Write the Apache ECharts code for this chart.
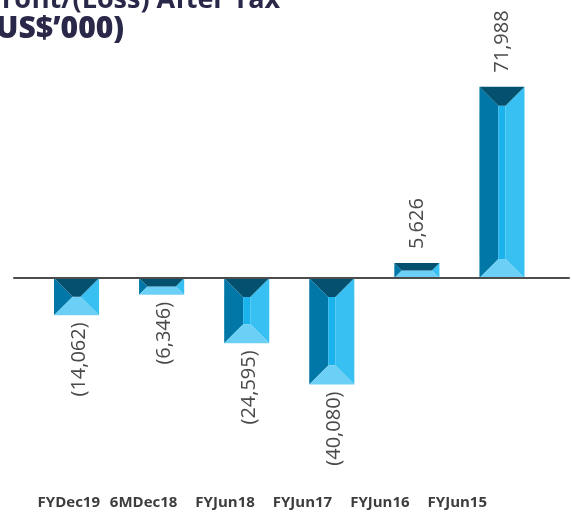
<!DOCTYPE html>
<html>
<head>
<meta charset="utf-8">
<script src="https://cdn.jsdelivr.net/npm/echarts@6/dist/echarts.min.js"></script>
<style>
  html, body { margin: 0; padding: 0; background: #ffffff; }
  #chart { width: 572px; height: 518px; }
</style>
</head>
<body>
<div id="chart"></div>
<script>
// Profit/(Loss) after tax by period, US$'000
const categories = ['FYDec19', '6MDec18', 'FYJun18', 'FYJun17', 'FYJun16', 'FYJun15'];
const profitValues = [-14062, -6346, -24595, -40080, 5626, 71988];
const titleLines = ['Profit/(Loss) After Tax', '(US$\u2019000)'];

// Facet colours of the bevelled bars
const FACET = {
  top: '#03506f',
  left: '#0077a6',
  center: '#1ab3ee',
  right: '#38c0f2',
  bottom: '#6ccff5'
};
const BEVEL = 19;
const BAR_RATIO = 0.53;

function formatValue(v) {
  const s = Math.abs(v).toLocaleString('en-US');
  return v < 0 ? '(' + s + ')' : s;
}

function renderBevelBar(params, api) {
  const idx = api.value(0);
  const val = api.value(1);
  const base = api.coord([idx, 0]);
  const end = api.coord([idx, val]);
  const bw = api.size([1, 0])[0] * BAR_RATIO;
  const cx = base[0];
  const x0 = cx - bw / 2, x1 = cx + bw / 2;
  const top = Math.min(base[1], end[1]);
  const bottom = Math.max(base[1], end[1]);
  const h = bottom - top;
  const d = Math.min(BEVEL, h / 2, bw / 2);

  const poly = (pts, color) => ({
    type: 'polygon',
    shape: { points: pts },
    style: { fill: color, stroke: null }
  });

  const children = [
    poly([[x0, top], [x0 + d, top + d], [x0 + d, bottom - d], [x0, bottom]], FACET.left),
    poly([[x1, top], [x1 - d, top + d], [x1 - d, bottom - d], [x1, bottom]], FACET.right),
    poly([[x0 + d, top + d], [x1 - d, top + d], [x1 - d, bottom - d], [x0 + d, bottom - d]], FACET.center),
    poly([[x0, bottom], [x1, bottom], [x1 - d, bottom - d], [x0 + d, bottom - d]], FACET.bottom),
    poly([[x0, top], [x1, top], [x1 - d, top + d], [x0 + d, top + d]], FACET.top)
  ];

  const positive = val >= 0;
  children.push({
    type: 'text',
    x: positive ? cx : cx + 3,
    y: positive ? top - 14 : bottom + 7,
    rotation: Math.PI / 2,
    style: {
      text: formatValue(val),
      fill: '#4a4a4a',
      font: '20px "Open Sans", sans-serif',
      align: positive ? 'left' : 'right',
      verticalAlign: 'middle'
    }
  });

  return { type: 'group', children: children };
}

const chart = echarts.init(document.getElementById('chart'), null, { renderer: 'canvas' });

const yRange = { min: -80000, max: 80000 };

chart.setOption({
  animation: false,
  backgroundColor: '#ffffff',
  title: {
    text: '{a|' + titleLines[0] + '}\n{b|' + titleLines[1] + '}',
    left: -20,
    top: -19,
    textStyle: {
      rich: {
        a: {
          fontFamily: '"Open Sans", sans-serif',
          fontSize: 27,
          fontWeight: 'bold',
          color: '#2a2849',
          lineHeight: 28
        },
        b: {
          fontFamily: '"Open Sans", sans-serif',
          fontSize: 30,
          fontWeight: 800,
          color: '#2a2849',
          lineHeight: 31
        }
      }
    }
  },
  grid: [
    // bars
    { left: 34, right: 27.5, top: 65.4, bottom: 27.4 },
    // zero line
    { left: 14, right: 3, top: 65.4, bottom: 27.4 },
    // period labels
    { left: 100, right: 85, top: 470, bottom: 28 }
  ],
  xAxis: [
    {
      gridIndex: 0, type: 'category', data: categories,
      show: false
    },
    {
      gridIndex: 1, type: 'category', data: [''],
      z: 10,
      axisLine: { show: true, onZero: true, lineStyle: { color: '#4d4d4d', width: 2 } },
      axisTick: { show: false },
      axisLabel: { show: false },
      splitLine: { show: false }
    },
    {
      gridIndex: 2, type: 'category', data: categories,
      boundaryGap: false,
      position: 'bottom',
      axisLine: { show: false },
      axisTick: { show: false },
      axisLabel: {
        interval: 0,
        align: 'right',
        margin: 5,
        color: '#3d3d3d',
        fontFamily: '"Open Sans", sans-serif',
        fontWeight: 'bold',
        fontSize: 15
      }
    }
  ],
  yAxis: [
    { gridIndex: 0, type: 'value', min: yRange.min, max: yRange.max, show: false },
    { gridIndex: 1, type: 'value', min: yRange.min, max: yRange.max, show: false },
    { gridIndex: 2, type: 'value', show: false }
  ],
  series: [
    {
      type: 'custom',
      xAxisIndex: 0,
      yAxisIndex: 0,
      renderItem: renderBevelBar,
      encode: { x: 0, y: 1 },
      data: profitValues.map((v, i) => [i, v]),
      z: 2
    }
  ]
});
</script>
</body>
</html>
